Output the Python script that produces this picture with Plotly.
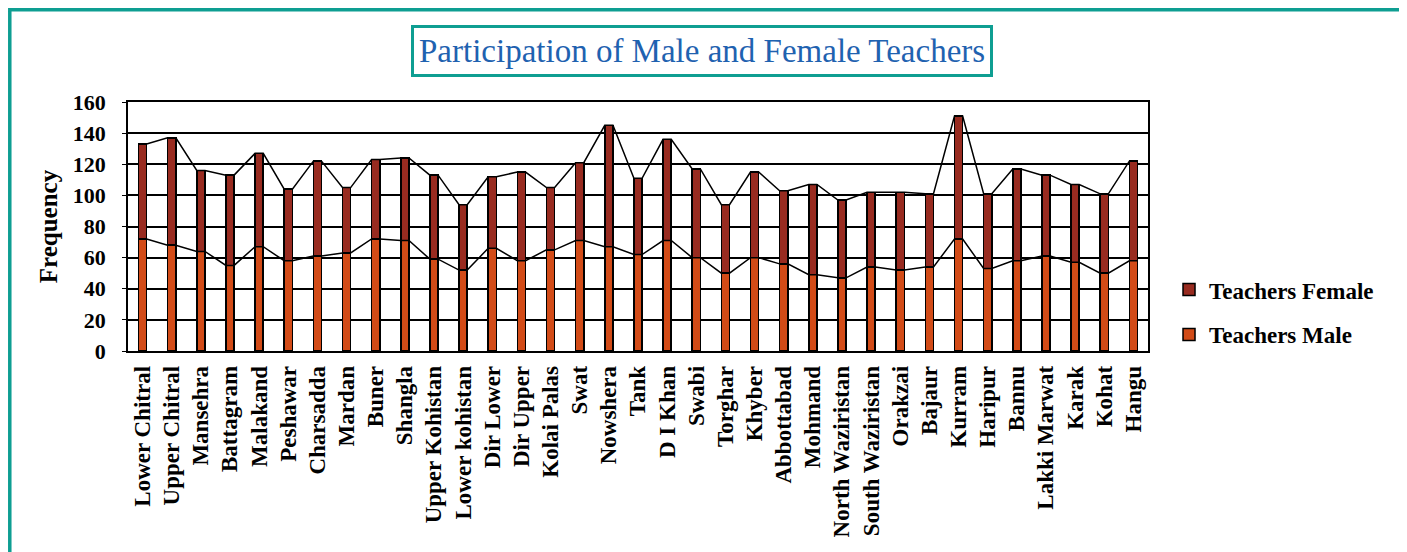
import plotly.graph_objects as go

# districts (x categories)
districts = [
    "Lower Chitral", "Upper Chitral", "Mansehra", "Battagram", "Malakand",
    "Peshawar", "Charsadda", "Mardan", "Buner", "Shangla", "Upper Kohistan",
    "Lower kohistan", "Dir Lower", "Dir Upper", "Kolai Palas", "Swat",
    "Nowshera", "Tank", "D I Khan", "Swabi", "Torghar", "Khyber",
    "Abbottabad", "Mohmand", "North Waziristan", "South Waziristan",
    "Orakzai", "Bajaur", "Kurram", "Haripur", "Bannu", "Lakki Marwat",
    "Karak", "Kohat", "Hangu",
]

# teachers counts
teachers_male = [72, 68, 64, 55, 67, 58, 61, 63, 72, 71, 59,
                 52, 66, 58, 65, 71, 67, 62, 71, 60, 50, 60,
                 56, 49, 47, 54, 52, 54, 72, 53, 58, 61, 57, 50, 58]
teachers_total = [133, 137, 116, 113, 127, 104, 122, 105, 123, 124, 113,
                  94, 112, 115, 105, 121, 145, 111, 136, 117, 94, 115,
                  103, 107, 97, 102, 102, 101, 151, 101, 117, 113, 107, 101, 122]
teachers_female = [t - m for t, m in zip(teachers_total, teachers_male)]

FONT = "Liberation Serif"
MALE_COL = "#D24B17"
FEMALE_COL = "#982B20"
TEAL = "#0E9E92"
BAR_W = 0.28

idx = list(range(len(districts)))

fig = go.Figure()

fig.add_trace(go.Bar(
    x=idx, y=teachers_male, width=BAR_W, name="Teachers Male",
    marker=dict(color=MALE_COL, line=dict(color="black", width=1.5)),
    legendgroup="m", legendrank=2,
))
fig.add_trace(go.Bar(
    x=idx, y=teachers_female, width=BAR_W, name="Teachers Female",
    marker=dict(color=FEMALE_COL, line=dict(color="black", width=1.5)),
    legendgroup="f", legendrank=1,
))

# series lines (Excel style) joining the tops of the stacked segments
def series_line(vals):
    xs, ys = [], []
    for i, v in zip(idx, vals):
        xs += [i - BAR_W / 2, i + BAR_W / 2]
        ys += [v, v]
    return xs, ys

for vals in (teachers_male, teachers_total):
    lx, ly = series_line(vals)
    fig.add_trace(go.Scatter(
        x=lx, y=ly, mode="lines", line=dict(color="black", width=1.5),
        showlegend=False, hoverinfo="skip",
    ))

# page body has an 8px margin, so the figure is a bit smaller than the window
fig.update_layout(
    barmode="stack",
    width=1399, height=544,
    margin=dict(l=120, r=259, t=94, b=201),
    paper_bgcolor="white", plot_bgcolor="white",
    font=dict(family=FONT, color="black"),
    showlegend=True,
    legend=dict(
        x=1.0206, y=0.333, xanchor="left", yanchor="top",
        traceorder="grouped", tracegroupgap=12,
        font=dict(family=FONT, size=23, weight="bold", color="black"),
        bgcolor="rgba(0,0,0,0)",
    ),
    xaxis=dict(
        tickmode="array", tickvals=idx, ticktext=districts,
        range=[-0.5, len(districts) - 0.5],
        tickangle=-90, showgrid=False,
        showline=True, linecolor="black", linewidth=1.5, mirror=True,
        ticks="", ticklabelstandoff=4,
        tickfont=dict(family=FONT, size=23, weight="bold", color="black"),
    ),
    yaxis=dict(
        range=[0, 160], dtick=20, showgrid=True, gridcolor="black", gridwidth=1.5,
        showline=True, linecolor="black", linewidth=1.5, mirror=True,
        ticks="outside", ticklen=4, tickcolor="black", ticklabelstandoff=12,
        tickfont=dict(family=FONT, size=22, weight="bold", color="black"),
        title=dict(text="Frequency", standoff=8,
                   font=dict(family=FONT, size=25, weight="bold", color="black")),
        zeroline=False,
    ),
    annotations=[dict(
        text="Participation of Male and Female Teachers",
        xref="paper", yref="paper", x=0.5627, y=1.205,
        xanchor="center", yanchor="middle", showarrow=False,
        font=dict(family=FONT, size=33, color="#1F62B0"),
        bordercolor=TEAL, borderwidth=3, borderpad=5, bgcolor="white",
    )],
    shapes=[dict(
        type="rect", xref="paper", yref="paper",
        x0=-0.1159, x1=1.248, y0=-0.86, y1=1.3705,
        line=dict(color=TEAL, width=3.5), layer="below",
    )],
)

fig.write_html("out.html")
